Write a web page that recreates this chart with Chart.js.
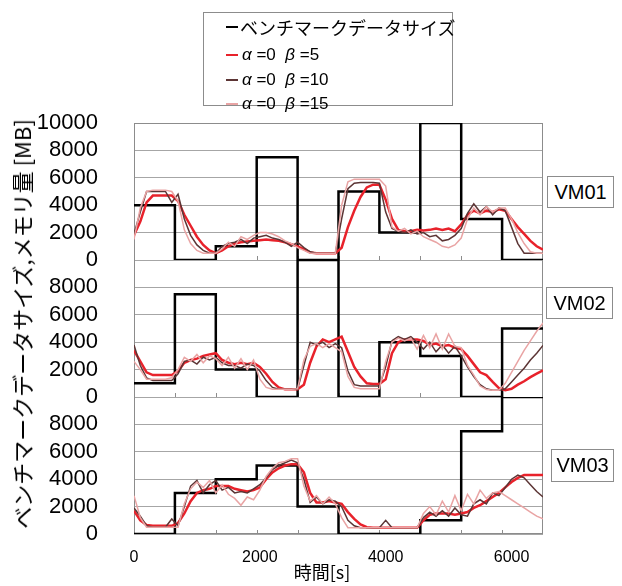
<!DOCTYPE html>
<html>
<head>
<meta charset="utf-8">
<script src="https://cdn.jsdelivr.net/npm/chart.js@4.4.1/dist/chart.umd.min.js"></script>
<style>
body { margin: 0; background: #fff; }
#wrap { position: relative; width: 622px; height: 586px; }
#memChart { position: absolute; left: 0; top: 0; }
#legend { position: absolute; left: 203px; top: 12px; width: 248px; height: 92px; border: 1px solid #8c8c8c; background: #fff;
  font-family: "Liberation Sans", "Noto Sans CJK JP", sans-serif; color: #000; }
#legend .row { position: absolute; left: 0; height: 24px; line-height: 24px; white-space: pre; }
#legend .mark { position: absolute; left: 22px; top: 11px; width: 12px; height: 2px; }
#legend .txt { position: absolute; left: 38px; top: 0; font-size: 17px; }
#legend .jp { font-family: "Noto Sans CJK JP", sans-serif; font-size: 18px; left: 36px; }
.vm { position: absolute; border: 1px solid #8c8c8c; font: 20px "Liberation Sans", sans-serif; text-align: center; background: #fff; }
#ytitle { position: absolute; left: 21px; top: 324px; transform: translate(-50%, -50%) rotate(-90deg); white-space: nowrap;
  font: 22px/24px "Noto Sans CJK JP", sans-serif; color: #000; }
#xtitle { position: absolute; left: 322px; top: 571px; transform: translate(-50%, -50%); white-space: nowrap;
  font: 18px "Noto Sans CJK JP", sans-serif; color: #000; }
</style>
</head>
<body>
<div id="wrap">
  <canvas id="memChart" width="622" height="586"></canvas>
  <div id="legend"></div>
  <div class="vm" style="left:547px; top:176px; width:65px; height:30px; line-height:30px;">VM01</div>
  <div class="vm" style="left:546px; top:287px; width:65px; height:30px; line-height:30px;">VM02</div>
  <div class="vm" style="left:551px; top:449px; width:61px; height:31px; line-height:31px;">VM03</div>
  <div id="ytitle">ベンチマークデータサイズ,メモリ量 [MB]</div>
  <div id="xtitle">時間[s]</div>
</div>
<script>
// sample times [s]
var times = [0,100,200,300,400,500,600,700,800,900,1000,
  1100,1200,1300,1400,1500,1600,1700,1800,1900,2000,2100,
  2200,2300,2400,2500,2600,2700,2800,2900,3000,3100,3200,
  3300,3400,3500,3600,3700,3800,3900,4000,4100,4200,4300,
  4400,4500,4600,4700,4800,4900,5000,5100,5200,5300,5400,
  5500,5600,5700,5800,5900,6000,6100,6200,6300,6400,6500]

// benchmark data size, step starts
var phaseStarts = [0,650,1300,1950,2600,3250,3900,4550,5200,5850,6500]
var bench1 = [4000,0,1000,7500,0,5000,2000,10000,3000,0,0]
var bench2 = [1000,7500,2000,0,10000,0,4000,3000,0,5000,5000]
var bench3 = [0,3000,4000,5000,2000,0,0,1000,7500,10000,10000]

// VM01 memory
var vm1b5 = [1800,2800,4200,4700,4700,4700,4700,4300,3300,2500,1700,
  1100,700,500,700,1000,1200,1300,1350,1400,1450,1500,
  1450,1400,1300,1150,1000,800,550,500,500,500,500,
  900,2400,3600,4600,5300,5500,5500,4400,3000,2200,2100,
  2100,2200,2150,2200,2300,2200,2300,2100,2600,3300,3600,
  3400,3600,3500,3700,3600,3000,2400,1900,1400,1000,750]
var vm1b10 = [1900,3500,5000,5000,5000,5000,4200,4800,3000,1800,1100,
  700,500,500,1000,1200,1300,1500,1200,1600,1700,1800,
  1600,1500,1300,1000,1300,900,600,500,500,500,500,
  3000,5200,5600,5650,5650,5650,5600,3500,2300,2100,2000,
  2200,1900,2000,1700,1800,1400,1500,1800,2300,3400,4100,
  3500,3900,3300,3800,3600,2400,1200,500,500,500,500]
var vm1b15 = [1500,3800,5000,5100,5100,5100,5000,4300,2200,1200,700,
  500,500,500,800,1300,1000,1700,1500,1800,2000,2000,
  1900,1700,1400,1200,900,700,500,500,500,500,500,
  4000,5700,5900,5900,5900,5900,5900,5400,2400,2100,2300,
  1900,2100,1700,1500,1300,1000,900,1100,1600,3000,3800,
  3300,3900,3500,3800,3800,3000,2000,1200,600,500,500]

// VM02 memory
var vm2b5 = [3400,2600,1800,1600,1600,1600,1600,1900,2500,2700,2800,
  3000,3100,3200,2700,2500,2400,2500,2400,2500,2200,1700,
  1100,700,560,560,560,900,2500,3700,4200,4000,4200,
  4400,3300,2200,1500,1000,950,950,1300,3200,4000,4200,
  4200,4200,4100,3800,3900,3700,3800,3600,3500,3000,2400,
  1800,1600,1100,650,500,600,900,1150,1450,1700,1950]
var vm2b10 = [3800,2300,1400,1200,1200,1200,1200,1700,2600,2700,2400,
  2900,2700,2900,2500,2300,2300,2100,2400,2300,1900,1200,
  700,560,560,560,560,2300,4000,3800,4000,3600,3900,
  3600,1900,900,800,800,800,800,2200,4100,4400,4200,
  4400,4000,3500,4000,3300,3800,3200,3700,3000,2200,1500,
  900,600,500,500,600,1100,1600,2100,2700,3200,3770]
var vm2b15 = [2600,2000,1300,1300,1300,1300,1400,2000,2900,2600,3100,
  2500,3000,2800,2300,2900,2100,2800,2000,2700,1300,700,
  560,560,560,560,600,2700,3700,3900,3600,3900,3600,
  3300,1500,700,600,600,600,600,2600,4000,4300,4100,
  4300,3500,4500,3600,4600,3500,4600,3700,3600,2300,1600,
  800,550,500,500,1000,1800,2600,3400,4100,4800,5400]

// VM03 memory
var vm3b5 = [1700,1000,650,600,600,600,600,800,1500,2400,3000,
  3200,3300,3500,3500,3500,3300,3200,3100,3200,3400,4000,
  4500,4800,5000,5100,5100,4500,3000,2300,2300,2400,2300,
  2200,1600,1100,700,500,460,460,460,460,460,460,
  460,460,1000,1400,1500,1500,1500,1400,1500,1600,1900,
  2100,2400,2700,3000,3400,3800,4100,4300,4300,4300,4300]
var vm3b10 = [1900,1300,600,500,500,500,1100,600,2000,3500,3900,
  3000,3600,3900,3200,3400,3000,3100,3000,3300,3600,4100,
  4700,5000,5200,5400,5200,4000,2300,2700,2200,2500,2400,
  2000,1000,600,460,460,460,460,1000,460,460,460,
  460,460,1200,1600,1300,1700,1300,1900,1400,1300,2200,
  2500,2200,3000,2800,3400,4000,4300,4100,3600,3100,2700]
var vm3b15 = [2800,1200,500,500,500,500,500,500,2200,3300,3800,
  3400,3900,3000,3600,2900,2600,2100,2700,2500,3200,4200,
  4800,5200,5300,5500,5500,3500,2400,2800,2200,2700,2200,
  1200,460,460,460,460,460,460,460,460,460,460,
  460,460,1500,2000,1400,2400,1600,2800,1700,2900,2200,
  3200,2600,3000,3100,2800,2500,2200,1900,1600,1300,1100]

var yTicks = [0,2000,4000,6000,8000,10000]
var xTicks = [0,2000,4000,6000]
var minorStep = 650

var seriesNames = ['ベンチマークデータサイズ', 'α=0 β=5', 'α=0 β=10', 'α=0 β=15']
var seriesColors = ['#000000', '#e8222b', '#5c3535', '#e9a4a4']
var seriesWidths = [2.5, 2.5, 1.5, 1.5]

var latin = "'Liberation Sans', Arial, sans-serif"

// legend (html)
var legendHtml = ''
var rowTops = [2, 30, 55, 79]
seriesNames.forEach(function(name, i){
    var isJp = i == 0
    var label = isJp ? name : name.replace(/([αβ])=/g, '<i>$1</i> =').replace(' <i>β', '  <i>β')
    legendHtml += "<div class='row' style='top:" + rowTops[i] + "px'>" +
        "<span class='mark' style='background:" + seriesColors[i] + "'></span>" +
        "<span class='txt" + (isJp ? " jp" : "") + "'>" + label + "</span></div>"
})
document.getElementById('legend').innerHTML = legendHtml

function toPoints(xs, ys){
    return xs.map(function(x, i){ return {x: x, y: ys[i]} })
}

function benchSet(data, axis){
    return {
        label: seriesNames[0], yAxisID: axis, data: toPoints(phaseStarts, data),
        borderColor: seriesColors[0], borderWidth: seriesWidths[0], stepped: 'before',
        pointRadius: 0, order: 4
    }
}

function memSet(k, data, axis){
    return {
        label: seriesNames[k], yAxisID: axis, data: toPoints(times, data),
        borderColor: seriesColors[k], borderWidth: seriesWidths[k], tension: 0,
        pointRadius: 0, order: 4 - k
    }
}

function panelAxis(showTop){
    return {
        type: 'linear', position: 'left', stack: 'vm', stackWeight: 1,
        min: 0, max: 10000,
        afterBuildTicks: function(s){ s.ticks = yTicks.map(function(v){ return {value: v} }) },
        afterFit: function(s){ s.width = 100 },
        ticks: {
            autoSkip: false, padding: 36, color: '#000',
            font: {family: latin, size: 22},
            callback: function(v){ return (v == 10000 && !showTop) ? '' : String(v) }
        },
        grid: { color: '#a6a6a6', drawTicks: false },
        border: { display: false }
    }
}

// frame + small tick marks at the bottom of every panel
var framePlugin = {
    id: 'framePlugin',
    beforeDatasetsDraw: function(chart){
        const ctx = chart.ctx
        const a = chart.chartArea
        const xs = chart.scales.x
        ctx.save()
        ctx.strokeStyle = '#8c8c8c'
        ctx.lineWidth = 1
        ctx.strokeRect(Math.round(a.left) + 0.5, Math.round(a.top) + 0.5, Math.round(a.width) - 1, Math.round(a.height) - 1)
        ctx.beginPath()
        ;['y1', 'y2', 'y3'].forEach(function(id){
            const b = Math.round(chart.scales[id].bottom)
            for (let v = xs.min + minorStep; v < xs.max; v += minorStep) {
                const px = Math.round(xs.getPixelForValue(v)) + 0.5
                ctx.moveTo(px, b)
                ctx.lineTo(px, b - 4)
            }
        })
        ctx.stroke()
        ctx.restore()
    }
}

var datasets = [
    benchSet(bench1, 'y1'), memSet(1, vm1b5, 'y1'), memSet(2, vm1b10, 'y1'), memSet(3, vm1b15, 'y1'),
    benchSet(bench2, 'y2'), memSet(1, vm2b5, 'y2'), memSet(2, vm2b10, 'y2'), memSet(3, vm2b15, 'y2'),
    benchSet(bench3, 'y3'), memSet(1, vm3b5, 'y3'), memSet(2, vm3b10, 'y3'), memSet(3, vm3b15, 'y3')
]

const ctx = document.getElementById('memChart').getContext('2d')
const myChart = new Chart(ctx, {
    type: 'line',
    data: { datasets: datasets },
    plugins: [framePlugin],
    options: {
        responsive: false,
        animation: false,
        layout: { padding: { left: 34, top: 123, right: 79, bottom: 0 } },
        plugins: { legend: { display: false }, tooltip: { enabled: false } },
        scales: {
            x: {
                type: 'linear', min: 0, max: 6500,
                afterBuildTicks: function(s){ s.ticks = xTicks.map(function(v){ return {value: v} }) },
                afterFit: function(s){ s.height = 52 },
                ticks: { padding: 6, color: '#000', font: {family: latin, size: 16},
                    callback: function(v){ return String(v) } },
                grid: { display: false },
                border: { display: false }
            },
            // stacked panels: last one listed ends up on top
            y3: panelAxis(false),
            y2: panelAxis(false),
            y1: panelAxis(true)
        }
    }
})
</script>
</body>
</html>
